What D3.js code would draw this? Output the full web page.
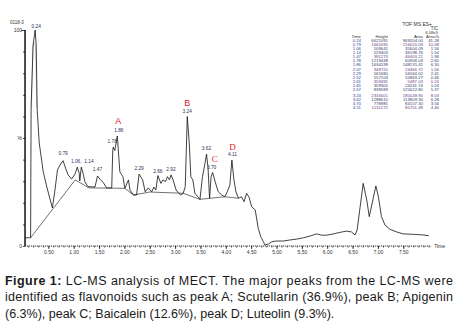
<!DOCTYPE html>
<html>
<head>
<meta charset="utf-8">
<script src="https://cdn.jsdelivr.net/npm/d3@7"></script>
<style>
  html, body { margin: 0; padding: 0; background: #fff; }
  svg { display: block; }
</style>
</head>
<body>
<div id="chart"></div>
<script>
// chromatogram trace: retention time (min) and relative intensity (%)
const traceTime = [0.04, 0.15, 0.16, 0.20, 0.24, 0.26, 0.28, 0.32, 0.40, 0.47, 0.58, 0.63, 0.68, 0.73, 0.79, 0.84, 0.89, 0.96, 1.03, 1.07, 1.11, 1.12, 1.15, 1.19, 1.22, 1.28, 1.42, 1.47, 1.52, 1.58, 1.65, 1.75, 1.77, 1.78, 1.81, 1.86, 1.91, 1.97, 2.01, 2.08, 2.11, 2.18, 2.24, 2.29, 2.36, 2.41, 2.47, 2.54, 2.58, 2.62, 2.66, 2.72, 2.76, 2.81, 2.85, 2.89, 2.92, 2.96, 3.02, 3.06, 3.11, 3.16, 3.20, 3.24, 3.28, 3.31, 3.35, 3.39, 3.46, 3.49, 3.54, 3.59, 3.62, 3.65, 3.68, 3.71, 3.74, 3.79, 3.85, 3.92, 3.98, 4.03, 4.08, 4.12, 4.16, 4.20, 4.25, 4.31, 4.36, 4.41, 4.46, 4.51, 4.58, 4.64, 4.69, 4.74, 4.77, 4.84, 4.91, 5.00, 5.13, 5.27, 5.40, 5.53, 5.66, 5.79, 5.89, 5.99, 6.12, 6.25, 6.38, 6.48, 6.55, 6.59, 6.65, 6.71, 6.78, 6.83, 6.90, 6.96, 7.01, 7.07, 7.14, 7.24, 7.37, 7.50, 7.70, 7.90, 8.00];
const traceValue = [3.8, 3.8, 64.4, 93.1, 100, 93.1, 63.0, 47.7, 34.3, 27.3, 17.6, 25.9, 35.2, 37.5, 39.5, 36.0, 32.9, 31.0, 33.5, 36.5, 33.6, 30.1, 36.5, 33.2, 29.8, 27.5, 27.3, 32.4, 30.9, 29.5, 26.9, 26.9, 44.0, 45.8, 44.2, 50.9, 34.4, 32.1, 26.7, 30.6, 25.9, 23.6, 23.6, 33.3, 30.6, 25.1, 26.9, 25.1, 27.3, 25.9, 32.6, 29.0, 30.6, 29.8, 32.1, 30.6, 32.9, 30.6, 25.9, 24.7, 23.6, 24.4, 27.5, 59.9, 47.5, 32.1, 30.6, 24.4, 22.5, 21.6, 32.1, 38.3, 42.5, 36.0, 22.1, 32.1, 34.0, 29.8, 25.1, 23.6, 22.8, 25.1, 28.2, 39.8, 30.6, 25.1, 22.1, 22.8, 20.5, 24.4, 22.5, 18.2, 16.7, 8.2, 4.3, 2.0, 0.5, 0.9, 2.0, 2.3, 2.3, 2.8, 3.2, 3.8, 4.6, 5.6, 5.0, 5.0, 5.6, 6.3, 6.9, 6.5, 5.1, 7.4, 18.2, 29.0, 21.3, 13.6, 21.3, 27.8, 22.8, 13.6, 9.7, 7.7, 6.5, 5.6, 5.4, 5.1, 4.8];

// faint second trace at the first peak
const ghostTime = [0.17, 0.19, 0.22, 0.25, 0.27];
const ghostValue = [64.0, 92.0, 94.0, 92.5, 64.0];

// integration baseline drawn under the peaks
const baseTime = [0.15, 1.03, 1.30, 2.01, 2.18, 2.50, 3.16, 3.49, 3.69, 3.98, 4.25];
const baseValue = [3.8, 30.6, 26.9, 26.7, 23.6, 25.0, 24.4, 21.6, 22.1, 22.8, 22.1];

// peak labels (text, time where it is centred, height above the peak)
const peakText = ["0.24", "0.79", "1.06,", "1.14", "1.47", "1.78", "1.86", "2.29", "2.66", "2.92", "3.24", "3.62", "3.70", "4.11"];
const peakLabelTime = [0.26, 0.79, 1.05, 1.30, 1.47, 1.76, 1.89, 2.29, 2.66, 2.92, 3.24, 3.62, 3.72, 4.13];
const peakLabelValue = [101, 42, 38.5, 38.5, 34.5, 47.5, 53, 35, 34, 34.5, 61.5, 44.5, 35.5, 41.5];

// lettered compounds
const compoundNames = ["A", "B", "C", "D"];
const compoundTime = [1.88, 3.24, 3.78, 4.13];
const compoundValue = [56.5, 65, 39, 44.5];

// peak table at the upper right
const tableHeader = ["Time", "Height", "Area", "Area%"];
const tableTime = ["0.24", "0.79", "1.06", "1.14", "1.47", "1.78", "1.86", "2.07", "2.29", "2.52", "2.61", "2.65", "2.67", "3.24", "3.62", "3.70", "4.11"];
const tableHeight = ["6621091", "1662095", "509641", "529403", "391273", "1219448", "1634199", "349720", "561680", "157103", "359491", "359305", "839589", "2316601", "1288610", "778985", "1131272"];
const tableArea = ["969204.00", "216620.09", "35604.09", "36198.76", "46403.21", "60958.03", "148131.41", "24466.72", "56564.02", "10863.27", "5487.03", "24241.74", "125622.80", "180048.90", "113809.30", "84157.30", "85751.48"];
const tableAreaPct = ["41.28", "10.08", "1.56", "1.54", "1.98", "2.60", "6.30", "1.06", "2.41", "0.46", "0.24", "1.03", "5.37", "8.03", "6.28", "3.56", "4.46"];

const captionLines = [
  "LC-MS analysis of MECT. The major peaks from the LC-MS were",
  "identified as flavonoids such as peak A; Scutellarin (36.9%), peak B; Apigenin",
  "(6.3%), peak C; Baicalein (12.6%), peak D; Luteolin (9.3%)."
];

const W = 459, H = 323;
const svg = d3.select("#chart").append("svg")
  .attr("width", W).attr("height", H);

const x = d3.scaleLinear().domain([0, 8]).range([23, 428.6]);
const y = d3.scaleLinear().domain([0, 100]).range([246, 30]);
const small = "Liberation Sans, Arial, sans-serif";

// y axis
const yAxis = svg.append("g")
  .attr("transform", `translate(${x(0.04)},0)`)
  .call(d3.axisLeft(y)
    .tickValues(d3.range(0, 101, 10))
    .tickSize(2)
    .tickFormat(d => d === 100 ? "100" : d === 50 ? "%" : d === 0 ? "0" : ""));
yAxis.select(".domain").attr("stroke-width", 1.4).attr("d", `M0,${y(100)}V${y(0)}`);
yAxis.selectAll(".tick line").attr("stroke-width", 0.7);
yAxis.selectAll(".tick text").attr("font-size", 5).attr("font-family", small).attr("fill", "#333").attr("x", -3);
yAxis.selectAll(".tick").filter(d => d === 100).select("line").attr("x2", -4);

// x axis: minor ticks then major
const xAxisY = y(0);
const minor = svg.append("g").attr("transform", `translate(0,${xAxisY})`)
  .call(d3.axisBottom(x).tickValues(d3.range(0.1, 8.01, 0.1)).tickSize(1.6).tickFormat(""));
minor.select(".domain").attr("d", `M${x(0.04)},0H${x(8.05)}`).attr("stroke-width", 0.8).attr("stroke-dasharray", "1.2,0.8");
minor.selectAll(".tick line").attr("stroke-width", 0.6);
const major = svg.append("g").attr("transform", `translate(0,${xAxisY})`)
  .call(d3.axisBottom(x).tickValues(d3.range(0.5, 7.51, 0.5)).tickSize(3).tickFormat(d3.format(".2f")));
major.select(".domain").remove();
major.selectAll(".tick line").attr("stroke-width", 0.7);
major.selectAll(".tick text").attr("font-size", 5).attr("font-family", small).attr("fill", "#333").attr("y", 4.5);
svg.append("text").attr("x", x(8.05) + 3).attr("y", xAxisY + 1.5)
  .attr("font-size", 5).attr("font-family", small).attr("fill", "#333").text("Time");

// lines
const line = d3.line().x(d => x(d[0])).y(d => y(d[1]));
svg.append("path").datum(d3.zip(baseTime, baseValue))
  .attr("d", line).attr("fill", "none").attr("stroke", "#333").attr("stroke-width", 0.7);
svg.append("path").datum(d3.zip(ghostTime, ghostValue))
  .attr("d", line).attr("fill", "none").attr("stroke", "#c8c8c8").attr("stroke-width", 0.8);
svg.append("path").datum(d3.zip(traceTime, traceValue))
  .attr("d", line).attr("fill", "none").attr("stroke", "#111").attr("stroke-width", 0.8)
  .attr("stroke-linejoin", "round");

// peak labels
svg.append("g").selectAll("text").data(peakText).join("text")
  .attr("x", (d, i) => x(peakLabelTime[i]))
  .attr("y", (d, i) => y(peakLabelValue[i]))
  .attr("text-anchor", "middle")
  .attr("font-size", 4.8).attr("font-family", small).attr("fill", "#2b2f55")
  .text(d => d);

svg.append("g").selectAll("text").data(compoundNames).join("text")
  .attr("x", (d, i) => x(compoundTime[i]))
  .attr("y", (d, i) => y(compoundValue[i]))
  .attr("text-anchor", "middle")
  .attr("font-size", 9)
  .attr("font-family", (d, i) => i < 2 ? small : "Liberation Serif, serif")
  .attr("fill", "#e3202b")
  .text(d => d);

// top labels
svg.append("text").attr("x", 10).attr("y", 24).attr("font-size", 4.5)
  .attr("font-family", small).attr("fill", "#333").text("0118-3");
const tr = svg.append("g").attr("font-family", small).attr("fill", "#333").attr("text-anchor", "end");
tr.append("text").attr("x", 432).attr("y", 25.5).attr("font-size", 5).text("TOF MS ES+");
tr.append("text").attr("x", 438).attr("y", 30).attr("font-size", 4.5).text("TIC");
tr.append("text").attr("x", 438).attr("y", 34).attr("font-size", 4.2).text("6.08e5");

// peak table
const colRight = [361, 388, 423, 439];
const tbl = svg.append("g").attr("font-family", small).attr("font-size", 4.3).attr("text-anchor", "end");
tbl.selectAll("text.h").data(tableHeader).join("text").attr("class", "h")
  .attr("x", (d, i) => colRight[i]).attr("y", 37.5).attr("fill", "#333").text(d => d);
const rowY = i => 41.5 + i * 4.15 + (i >= 13 ? 1.5 : 0);
[tableTime, tableHeight, tableArea, tableAreaPct].forEach((col, c) => {
  tbl.append("g").selectAll("text").data(col).join("text")
    .attr("x", colRight[c]).attr("y", (d, i) => rowY(i))
    .attr("fill", (d, i) => c === 0 ? "#2a3f9a" : (i % 3 === 1 ? "#6a3c8c" : "#34406a"))
    .text(d => d);
});

// caption
const cap = svg.append("g").attr("font-family", small).attr("font-size", 12.5).attr("fill", "#1a1a1a");
const capBase = [285, 301.3, 317.6];
const t0 = cap.append("text").attr("x", 5).attr("y", capBase[0])
  .attr("textLength", 448).attr("lengthAdjust", "spacing");
t0.append("tspan").attr("font-weight", "bold").text("Figure 1: ");
t0.append("tspan").text(captionLines[0]);
cap.append("text").attr("x", 5).attr("y", capBase[1])
  .attr("textLength", 448).attr("lengthAdjust", "spacing").text(captionLines[1]);
cap.append("text").attr("x", 5).attr("y", capBase[2]).text(captionLines[2]);
</script>
</body>
</html>
